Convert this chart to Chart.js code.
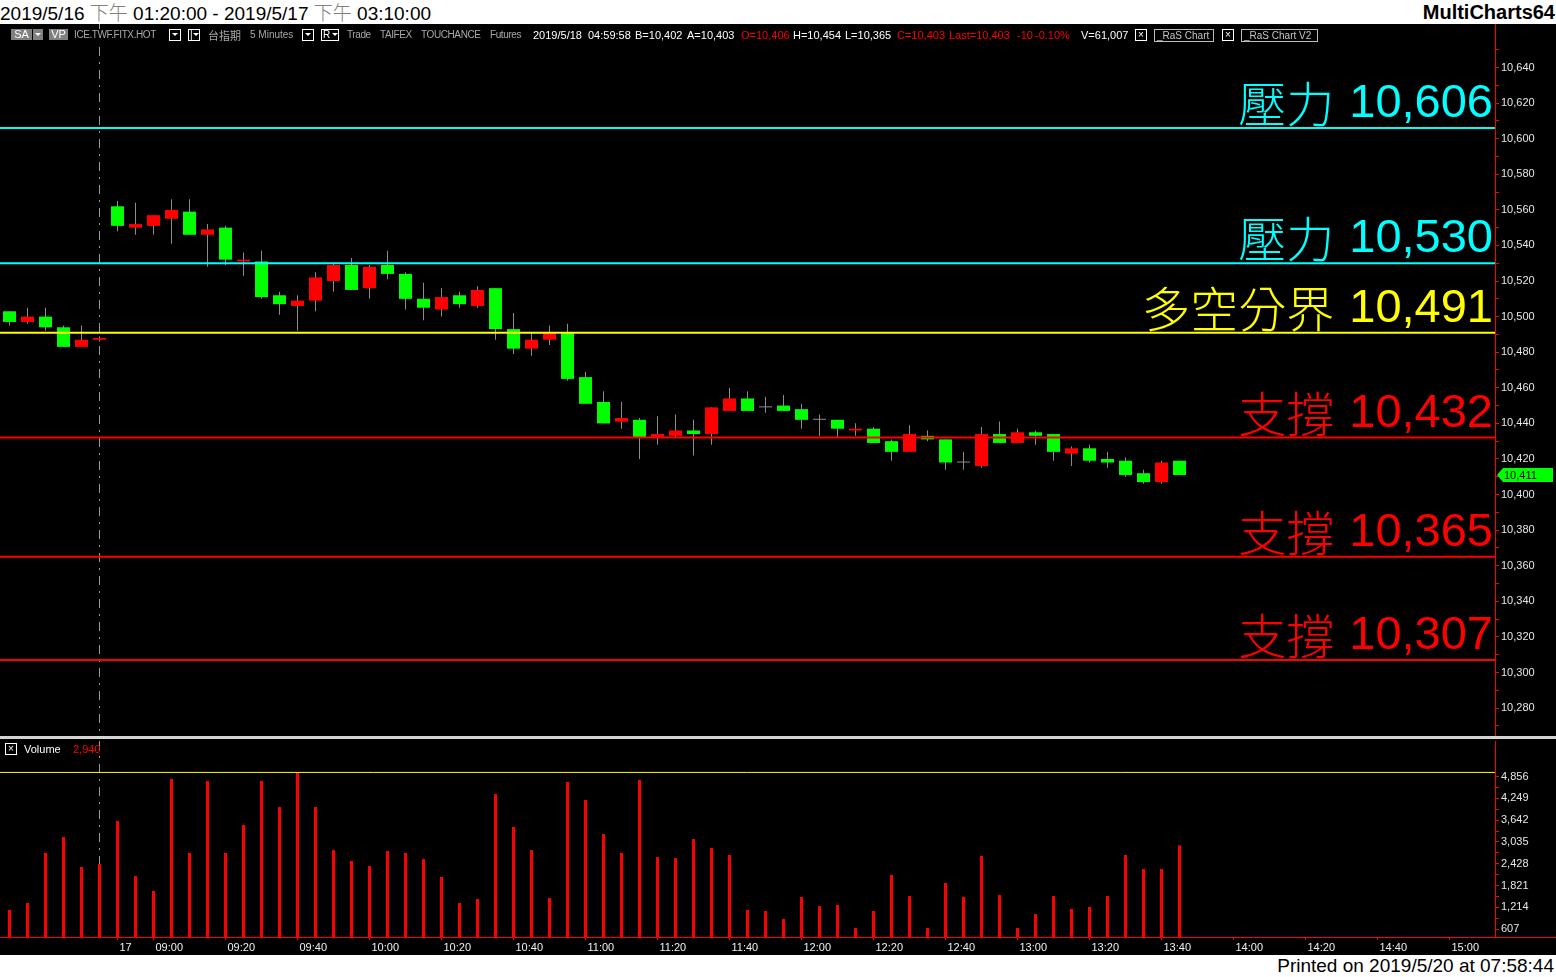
<!DOCTYPE html>
<html>
<head>
<meta charset="utf-8">
<title>台指期 5 Minutes</title>
<script src="https://cdn.jsdelivr.net/npm/chart.js@4.4.1/dist/chart.umd.min.js"></script>
<style>
html, body { margin: 0; padding: 0; background: #fff; }
body { width: 1556px; height: 977px; position: relative; overflow: hidden; font-family: "Liberation Sans", Arial, sans-serif; }
#title { position: absolute; left: 0; top: 0; height: 24px; line-height: 24px; font-size: 19px; color: #000; white-space: pre; }
#title .cjk { color: #808080; font-family: "Noto Sans CJK TC", sans-serif; font-weight: 300; }
#brand { position: absolute; right: 1px; top: 0; line-height: 24px; font-size: 20px; font-weight: bold; color: #000; }
#panel { position: absolute; left: 0; top: 24px; width: 1556px; height: 931px; background: #000; }
#printed { position: absolute; right: 2px; top: 955px; line-height: 22px; font-size: 19px; color: #000; white-space: pre; }
#sep { position: absolute; left: 0; top: 736px; width: 1556px; height: 3px; background: #d4d4d4; }
canvas { position: absolute; left: 0; }
#priceChart { top: 24px; }
#volChart { top: 740px; }
.hd { position: absolute; top: 29px; height: 12px; line-height: 12px; font-size: 11px; white-space: pre; color: #fff; }
.gray { color: #a8a8a8; font-size: 10px; letter-spacing: -0.4px; }
.red { color: #ff0000; }
.gbox { background: #808080; color: #fff; text-align: center; height: 11px; line-height: 11px; }
.obox { border: 1px solid #fff; box-sizing: border-box; width: 12px; height: 12px; line-height: 10px; text-align: center; font-size: 10px; }
.tri { position: absolute; left: 2px; top: 4px; width: 0; height: 0; border-left: 3px solid transparent; border-right: 3px solid transparent; border-top: 3px solid #fff; }
.rbox { border: 1px solid #bdbdbd; box-sizing: border-box; height: 13px; line-height: 11px; color: #c4c4c4; padding-left: 2px; font-size: 10px; }
</style>
</head>
<body>
<div id="title">2019/5/16 <span class="cjk">下午</span> 01:20:00 - 2019/5/17 <span class="cjk">下午</span> 03:10:00</div>
<div id="brand">MultiCharts64</div>
<div id="panel"></div>
<canvas id="priceChart" width="1556" height="712"></canvas>
<div id="sep"></div>
<canvas id="volChart" width="1556" height="215"></canvas>

<div class="hd gbox" style="left:11px;width:21px">SA</div>
<div class="hd gbox" style="left:33px;width:10px"><i class="tri"></i></div>
<div class="hd gbox" style="left:49px;width:19px">VP</div>
<div class="hd gray" style="left:74px;background:#000;padding-bottom:6px">ICE.TWF.FITX.HOT</div>
<div class="hd obox" style="left:169px"><i class="tri" style="left:2px;top:3px"></i></div>
<div class="hd obox" style="left:188px;text-align:left;padding-left:1px">|<i class="tri" style="left:4px;top:3px"></i></div>
<div class="hd gray" style="left:208px;font-family:'Noto Sans CJK TC';font-size:11px;letter-spacing:0">台指期</div>
<div class="hd gray" style="left:250px;letter-spacing:0">5 Minutes</div>
<div class="hd obox" style="left:302px"><i class="tri" style="left:2px;top:3px"></i></div>
<div class="hd obox" style="left:321px;width:18px;text-align:left;padding-left:1px">R<i class="tri" style="left:10px;top:3px"></i></div>
<div class="hd gray" style="left:347px">Trade</div>
<div class="hd gray" style="left:380px">TAIFEX</div>
<div class="hd gray" style="left:421px">TOUCHANCE</div>
<div class="hd gray" style="left:490px">Futures</div>
<div class="hd" style="left:533px">2019/5/18</div>
<div class="hd" style="left:588px">04:59:58</div>
<div class="hd" style="left:635px">B=10,402</div>
<div class="hd" style="left:687px">A=10,403</div>
<div class="hd red" style="left:741px">O=10,406</div>
<div class="hd" style="left:793px">H=10,454</div>
<div class="hd" style="left:845px">L=10,365</div>
<div class="hd red" style="left:897px">C=10,403</div>
<div class="hd red" style="left:949px">Last=10,403</div>
<div class="hd red" style="left:1017px">-10</div>
<div class="hd red" style="left:1035px">-0.10%</div>
<div class="hd" style="left:1081px">V=61,007</div>
<div class="hd obox" style="left:1135px">×</div>
<div class="hd rbox" style="left:1154px;width:60px">_RaS Chart</div>
<div class="hd obox" style="left:1222px">×</div>
<div class="hd rbox" style="left:1241px;width:77px">_RaS Chart V2</div>

<div class="hd obox" style="left:5px;top:743px">×</div>
<div class="hd" style="left:24px;top:743px">Volume</div>
<div class="hd red" id="lastVol" style="left:73px;top:743px"></div>

<div id="printed">Printed on 2019/5/20 at 07:58:44</div>

<script>
// 5 minute bars: 5/16 close of day session, then 5/17 day session
const barTimes = [
  '13:20', '13:25', '13:30', '13:35', '13:40', '13:45',
  '08:50', '08:55', '09:00', '09:05', '09:10', '09:15', '09:20', '09:25', '09:30', '09:35', '09:40', '09:45', '09:50', '09:55',
  '10:00', '10:05', '10:10', '10:15', '10:20', '10:25', '10:30', '10:35', '10:40', '10:45', '10:50', '10:55',
  '11:00', '11:05', '11:10', '11:15', '11:20', '11:25', '11:30', '11:35', '11:40', '11:45', '11:50', '11:55',
  '12:00', '12:05', '12:10', '12:15', '12:20', '12:25', '12:30', '12:35', '12:40', '12:45', '12:50', '12:55',
  '13:00', '13:05', '13:10', '13:15', '13:20', '13:25', '13:30', '13:35', '13:40', '13:45'
];

const openPx = [
  10503, 10497, 10500, 10494, 10483, 10487,
  10562, 10550, 10551, 10555, 10559, 10546, 10550, 10531, 10531, 10512, 10506, 10509, 10520, 10529, 10516, 10529,
  10524, 10510, 10504, 10512, 10506, 10516, 10493, 10482, 10487, 10491, 10466, 10452, 10441, 10442, 10432, 10433, 10436, 10434, 10447, 10454, 10449, 10450,
  10448, 10442, 10442, 10436, 10437, 10430, 10424, 10433, 10431, 10418, 10416, 10434, 10429, 10435, 10434, 10423, 10426, 10420, 10419, 10412, 10407, 10419
];
const highPx = [
  10503, 10505, 10505, 10495, 10495, 10489,
  10565, 10564, 10557, 10566, 10566, 10552, 10551, 10536, 10537, 10514, 10512, 10525, 10530, 10533, 10529, 10537,
  10525, 10519, 10516, 10514, 10517, 10516, 10502, 10491, 10495, 10496, 10469, 10458, 10452, 10443, 10444, 10445, 10442, 10449, 10460, 10458, 10455, 10456,
  10451, 10445, 10442, 10440, 10438, 10431, 10439, 10436, 10431, 10424, 10438, 10441, 10437, 10436, 10434, 10427, 10428, 10424, 10421, 10414, 10419, 10419
];
const lowPx = [
  10495, 10496, 10492, 10483, 10483, 10486,
  10548, 10546, 10546, 10541, 10546, 10528, 10529, 10523, 10510, 10501, 10492, 10503, 10514, 10515, 10510, 10521,
  10504, 10498, 10500, 10505, 10505, 10487, 10479, 10478, 10484, 10464, 10451, 10440, 10437, 10420, 10428, 10432, 10422, 10428, 10447, 10447, 10446, 10447,
  10437, 10433, 10432, 10433, 10429, 10419, 10424, 10430, 10414, 10414, 10415, 10429, 10429, 10428, 10419, 10416, 10418, 10415, 10410, 10406, 10406, 10411
];
const closePx = [
  10497, 10500, 10494, 10483, 10487, 10488,
  10551, 10552, 10557, 10560, 10546, 10549, 10532, 10532, 10511, 10507, 10509, 10522, 10529, 10515, 10528, 10524,
  10510, 10505, 10511, 10507, 10515, 10493, 10482, 10487, 10491, 10465, 10451, 10440, 10443, 10432, 10434, 10436, 10434, 10449, 10454, 10447, 10449, 10447,
  10442, 10442, 10437, 10437, 10429, 10424, 10434, 10431, 10418, 10418, 10434, 10429, 10435, 10433, 10424, 10426, 10419, 10418, 10411, 10407, 10418, 10411
];
const volume = [
  1137, 1332, 2727, 3173, 2336, 2420,
  3619, 2085, 1667, 4791, 2727, 4735, 2727, 3508, 4735, 4010, 4975, 4010, 2810, 2504, 2364, 2782,
  2727, 2559, 2057, 1332, 1444, 4372, 3452, 2810, 1472, 4707, 4205, 3257, 2727, 4763, 2615, 2587, 3117, 2866, 2671, 1137, 1109, 886,
  1499, 1248, 1276, 635, 1109, 2113, 1527, 635, 1890, 1499, 2643, 1555, 635, 1025, 1527, 1165, 1221, 1527, 2671, 2280, 2280, 2940
];

// support / resistance levels
const levelNames = ['壓力', '壓力', '多空分界', '支撐', '支撐', '支撐'];
const levelValues = [10606, 10530, 10491, 10432, 10365, 10307];

// axis ticks
const xTickIdx = [6, 8, 12, 16, 20, 24, 28, 32, 36, 40, 44, 48, 52, 56, 60, 64, 68, 72, 76, 80];
const xTickLabels = ['17', '09:00', '09:20', '09:40', '10:00', '10:20', '10:40', '11:00', '11:20', '11:40',
  '12:00', '12:20', '12:40', '13:00', '13:20', '13:40', '14:00', '14:20', '14:40', '15:00'];
const priceTicks = [10280, 10300, 10320, 10340, 10360, 10380, 10400, 10420, 10440, 10460,
  10480, 10500, 10520, 10540, 10560, 10580, 10600, 10620, 10640];
const volTicks = [607, 1214, 1821, 2428, 3035, 3642, 4249, 4856];
const sessionBreakIdx = 5;

// visible ranges of the two panes
const X_MIN = -0.528, X_MAX = 82.528;
const P_MIN = 10264.3, P_MAX = 10664.45;
const V_MIN = 384, V_MAX = 5852;

const levelColors = ['#00ffff', '#00ffff', '#ffff00', '#ff0000', '#ff0000', '#ff0000'];
const UP = '#ff0000', DOWN = '#00ff00', FLAT = '#8c8c8c', WICK = '#8c8c8c';
const FONT = '"Liberation Sans", Arial, sans-serif';
const CJK = '"Noto Sans CJK TC", "Noto Sans CJK SC", sans-serif';

Chart.defaults.font.family = FONT;
Chart.defaults.font.size = 11;

const fmt = (v) => v.toLocaleString('en-US');

const sessionLine = {
  id: 'sessionLine',
  beforeDatasetsDraw(chart) {
    const {ctx, chartArea, scales} = chart;
    const x = Math.floor(scales.x.getPixelForValue(sessionBreakIdx)) + 0.5;
    ctx.save();
    ctx.strokeStyle = '#9a9a9a';
    ctx.lineWidth = 1;
    ctx.setLineDash([9, 6, 2, 6]);
    ctx.beginPath();
    ctx.moveTo(x, chartArea.top);
    ctx.lineTo(x, chartArea.bottom);
    ctx.stroke();
    ctx.restore();
  }
};

const levelLabels = {
  id: 'levelLabels',
  afterDatasetsDraw(chart) {
    const {ctx, chartArea, scales: {y}} = chart;
    const right = chartArea.right - 2;
    ctx.save();
    ctx.textAlign = 'right';
    ctx.textBaseline = 'alphabetic';
    levelValues.forEach((v, i) => {
      const py = y.getPixelForValue(v);
      const num = fmt(v);
      ctx.fillStyle = levelColors[i];
      ctx.font = '47px ' + FONT;
      ctx.fillText(num, right, py - 11);
      const w = ctx.measureText(num).width;
      ctx.font = '300 48px ' + CJK;
      ctx.fillText(levelNames[i], right - w - 15, py - 6);
    });
    ctx.restore();
  }
};

const lastTag = {
  id: 'lastTag',
  afterDraw(chart) {
    const {ctx, chartArea, scales: {y}} = chart;
    const last = closePx[closePx.length - 1];
    const py = Math.round(y.getPixelForValue(last));
    const x0 = chartArea.right + 2;
    ctx.save();
    ctx.fillStyle = '#00ff00';
    ctx.beginPath();
    ctx.moveTo(x0, py);
    ctx.lineTo(x0 + 6, py - 7);
    ctx.lineTo(chart.width - 3, py - 7);
    ctx.lineTo(chart.width - 3, py + 7);
    ctx.lineTo(x0 + 6, py + 7);
    ctx.closePath();
    ctx.fill();
    ctx.fillStyle = '#000';
    ctx.font = '11px ' + FONT;
    ctx.textAlign = 'left';
    ctx.textBaseline = 'middle';
    ctx.fillText(fmt(last), x0 + 7, py + 1);
    ctx.restore();
  }
};

const axisExtend = {
  id: 'axisExtend',
  afterDraw(chart) {
    const {ctx, chartArea} = chart;
    const yb = Math.round(chartArea.bottom) + 0.5;
    ctx.save();
    ctx.strokeStyle = '#ff0000';
    ctx.lineWidth = 1;
    ctx.beginPath();
    ctx.moveTo(chartArea.right, yb);
    ctx.lineTo(chart.width, yb);
    ctx.stroke();
    ctx.restore();
  }
};

function rightAxis(min, max, marks, labelled) {
  return {
    position: 'right', min, max,
    afterBuildTicks: (s) => { s.ticks = marks.map(v => ({value: v})); },
    afterFit: (s) => { s.width = 61; s.paddingTop = 0; s.paddingBottom = 0; },
    grid: { drawOnChartArea: false, color: '#ff0000', tickLength: 4 },
    border: { color: '#ff0000', width: 1 },
    ticks: {
      color: '#e6e6e6', padding: 2, autoSkip: false,
      font: { family: FONT, size: 11 },
      callback: (v) => labelled.includes(v) ? fmt(v) : ''
    }
  };
}

function build() {
  const bodyColors = barTimes.map((t, i) =>
    closePx[i] > openPx[i] ? UP : closePx[i] < openPx[i] ? DOWN : FLAT);

  const priceMarks = [10270];
  priceTicks.forEach(v => priceMarks.push(v, v + 10));

  new Chart(document.getElementById('priceChart'), {
    type: 'bar',
    data: {
      datasets: [
        ...levelValues.map((v, i) => ({
          type: 'line', order: 0,
          data: [{x: X_MIN, y: v}, {x: X_MAX, y: v}],
          borderColor: levelColors[i], borderWidth: 2, pointRadius: 0
        })),
        {
          order: 1,
          data: barTimes.map((t, i) => ({x: i, y: [openPx[i], closePx[i]]})),
          backgroundColor: bodyColors, barThickness: 13, grouped: false,
          minBarLength: 1, inflateAmount: 0, borderWidth: 0, clip: 0
        },
        {
          order: 2,
          data: barTimes.map((t, i) => ({x: i, y: [lowPx[i], highPx[i]]})),
          backgroundColor: WICK, barThickness: 1, grouped: false,
          inflateAmount: 0, borderWidth: 0, clip: 0
        }
      ]
    },
    options: {
      responsive: false, animation: false, devicePixelRatio: 1,
      layout: { padding: 0 },
      plugins: { legend: { display: false }, tooltip: { enabled: false } },
      scales: {
        x: { type: 'linear', min: X_MIN, max: X_MAX, offset: false, display: false, grid: { offset: false } },
        y: rightAxis(P_MIN, P_MAX, priceMarks, priceTicks)
      }
    },
    plugins: [sessionLine, levelLabels, lastTag]
  });

  const volMarks = [];
  volTicks.forEach(v => { if (v - 303.5 > V_MIN) volMarks.push(v - 303.5); volMarks.push(v); });
  const maxVol = Math.max(...volume);
  document.getElementById('lastVol').textContent = fmt(volume[volume.length - 1]);

  new Chart(document.getElementById('volChart'), {
    type: 'bar',
    data: {
      datasets: [
        {
          type: 'line', order: 0,
          data: [{x: X_MIN, y: maxVol}, {x: X_MAX, y: maxVol}],
          borderColor: '#ffff00', borderWidth: 1, pointRadius: 0
        },
        {
          order: 1,
          data: barTimes.map((t, i) => ({x: i, y: volume[i]})),
          backgroundColor: '#ff0000', barThickness: 3, grouped: false,
          inflateAmount: 0, borderWidth: 0, clip: 0
        }
      ]
    },
    options: {
      responsive: false, animation: false, devicePixelRatio: 1,
      layout: { padding: { top: 1, left: 0, right: 0, bottom: 0 } },
      plugins: { legend: { display: false }, tooltip: { enabled: false } },
      scales: {
        x: {
          type: 'linear', min: X_MIN, max: X_MAX, offset: false,
          afterBuildTicks: (s) => { s.ticks = xTickIdx.map(v => ({value: v})); },
          afterFit: (s) => { s.height = 18; s.paddingLeft = 0; s.paddingRight = 0; },
          grid: { drawOnChartArea: false, offset: false, color: '#ff0000', tickLength: 3 },
          border: { color: '#ff0000', width: 1 },
          ticks: {
            autoSkip: false, maxRotation: 0, minRotation: 0, align: 'start', labelOffset: 2, padding: 1,
            color: '#f0f0f0', font: { family: FONT, size: 11 },
            callback: (v) => xTickLabels[xTickIdx.indexOf(v)] || ''
          }
        },
        y: rightAxis(V_MIN, V_MAX, volMarks, volTicks)
      }
    },
    plugins: [sessionLine, axisExtend]
  });
}

Promise.all([
  document.fonts.load('47px "Liberation Sans"'),
  document.fonts.load('300 48px "Noto Sans CJK TC"', '壓力多空分界支撐'),
  document.fonts.load('48px "Noto Sans CJK TC"', '壓力多空分界支撐')
]).catch(() => {}).then(build);
</script>
</body>
</html>
